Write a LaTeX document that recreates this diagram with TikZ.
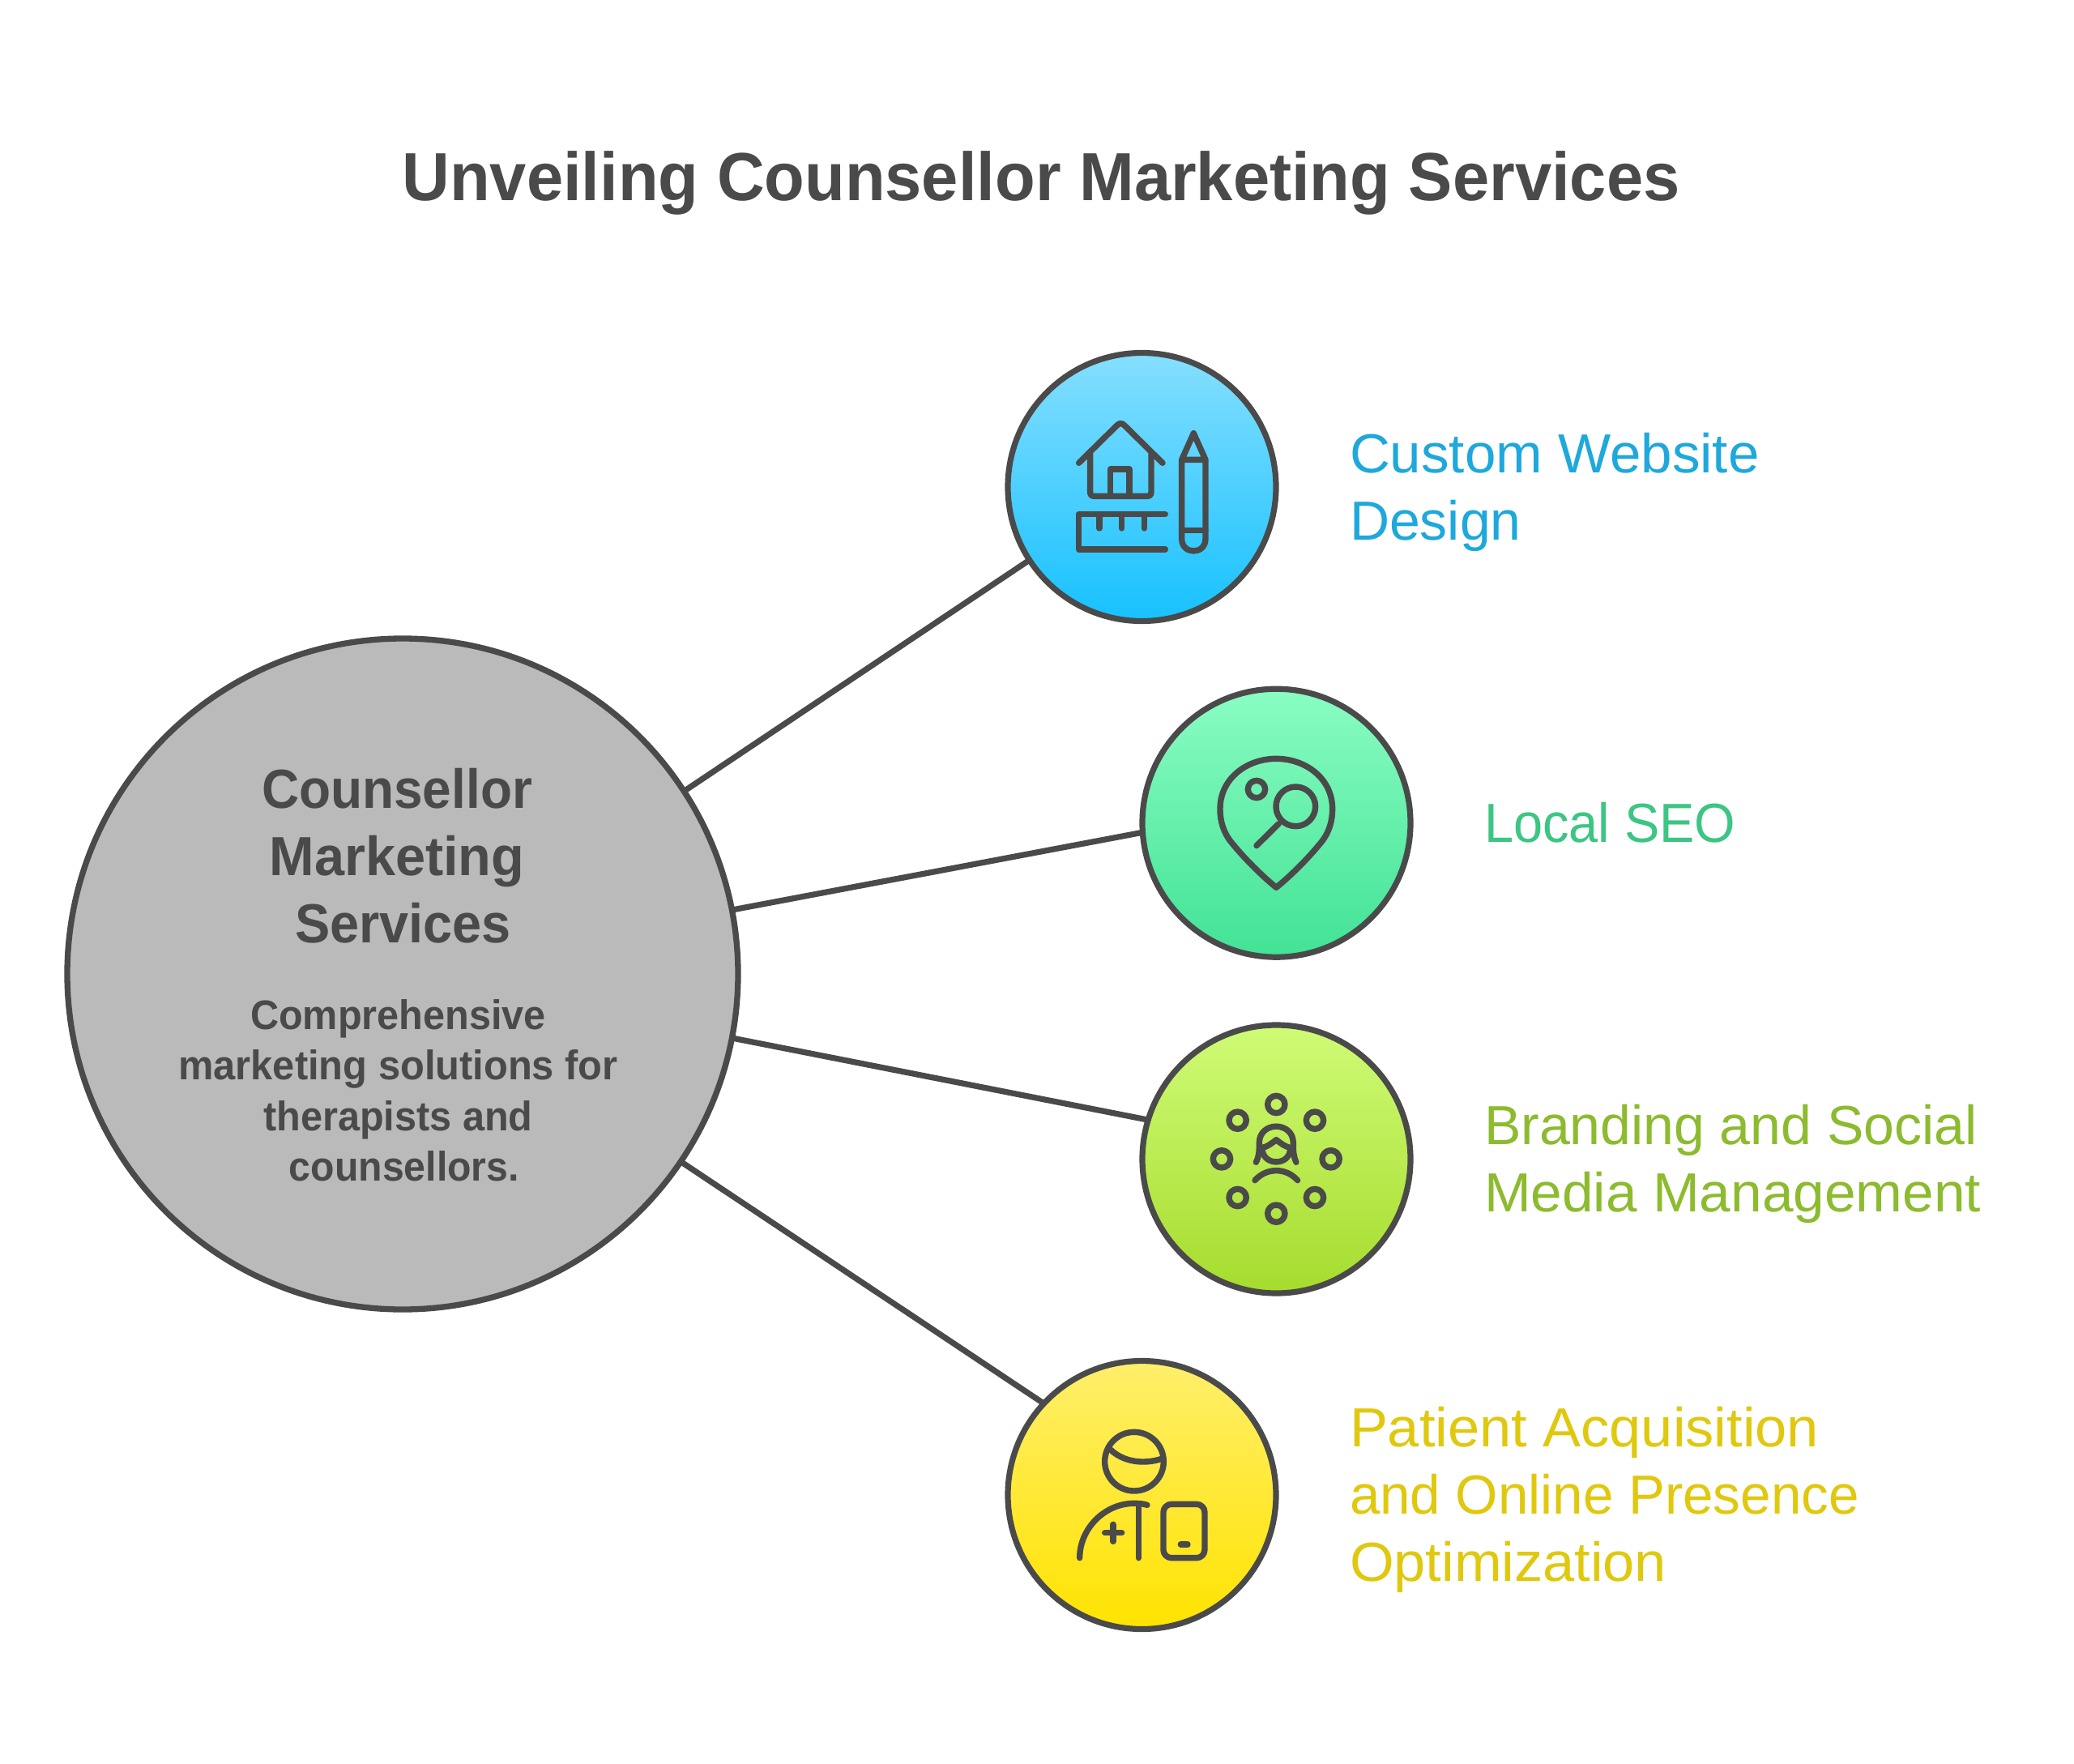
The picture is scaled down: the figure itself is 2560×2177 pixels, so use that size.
\documentclass[tikz,border=0pt]{standalone}
\usepackage{fontspec}
\usepackage{graphicx}
\setmainfont{Liberation Sans}
\definecolor{ink}{HTML}{4A4A4A}
\definecolor{hubfill}{HTML}{BABABA}
\definecolor{blueTop}{HTML}{85DFFF}\definecolor{blueBot}{HTML}{17C1FF}
\definecolor{greenTop}{HTML}{8AFDC2}\definecolor{greenBot}{HTML}{42E296}
\definecolor{limeTop}{HTML}{CFFB76}\definecolor{limeBot}{HTML}{A6DC2D}
\definecolor{yelTop}{HTML}{FFEF6B}\definecolor{yelBot}{HTML}{FFE300}
\definecolor{blueTxt}{HTML}{1EA8DC}\definecolor{greenTxt}{HTML}{3CC583}
\definecolor{limeTxt}{HTML}{8DBB2F}\definecolor{yelTxt}{HTML}{E0C80E}
\newcommand{\fs}[2]{\fontsize{#1}{#2}\selectfont}
\newcommand{\sx}[2]{\scalebox{#1}[1]{#2}}
\tikzset{
  every node/.style={inner sep=0pt,outer sep=0pt},
  disc/.style={circle,draw=ink,line width=7.2pt,minimum size=331pt},
  link/.style={draw=ink,line width=7.2pt},
  glyph/.style={draw=ink,line width=7.4pt,line cap=round,line join=round},
  label/.style={anchor=west,align=left,font=\fs{68}{83}},
}
\begin{document}
\begin{tikzpicture}[x=1pt,y=-1pt]
\useasboundingbox (0,0) rectangle (2560,2177);
\fill[white] (0,0) rectangle (2560,2177);
\node[font=\fs{84}{100}\bfseries,text=ink] (title) at (1285,226) {\sx{0.968}{Unveiling Counsellor Marketing Services}};
\node[circle,draw=ink,fill=hubfill,line width=7.3pt,minimum size=828pt] (hub) at (497,1202) {};
\node[disc,top color=blueTop,bottom color=blueBot] (c1) at (1409.5,601) {};
\node[disc,top color=greenTop,bottom color=greenBot] (c2) at (1575.5,1015.7) {};
\node[disc,top color=limeTop,bottom color=limeBot] (c3) at (1575.5,1430.5) {};
\node[disc,top color=yelTop,bottom color=yelBot] (c4) at (1409.5,1845) {};
\draw[link] (hub.33.7) -- (c1.213.6);
\draw[link] (hub.11.2) -- (c2.184.5);
\draw[link] (hub.-11.5) -- (c3.163.5);
\draw[link] (hub.-34) -- (c4.137);
\node[align=center,font=\fs{68}{83}\bfseries,text=ink] (hubT) at (490,1056) {\sx{0.94}{Counsellor}\\\sx{0.98}{Marketing}\\\hspace{14.7pt}\sx{0.953}{Services}};
\node[align=center,font=\fs{51}{62.5}\bfseries,text=ink] (hubD) at (491.5,1346) {\sx{0.953}{Comprehensive}\\\sx{0.957}{marketing solutions for}\\\sx{0.953}{therapists and}\\\hspace{14.7pt}\sx{0.945}{counsellors.}};
\node[label,text=blueTxt] (t1) at (1666,607.5) {\sx{1.016}{Custom Website}\\Design};
\node[label,text=greenTxt] (t2) at (1832,1015) {\sx{0.955}{Local SEO}};
\node[label,text=limeTxt] (t3) at (1832,1436) {Branding and Social\\\sx{1.02}{Media Management}};
\node[label,text=yelTxt] (t4) at (1666,1850.5) {\sx{1.035}{Patient Acquisition}\\\sx{0.99}{and Online Presence}\\\sx{1.035}{Optimization}};
% icon 1 (house, ruler, pencil)
\begin{scope}[shift={(1230,420)},x=0.3333pt,y=-0.3333pt]
\draw[glyph] (305,454) -- (445,316) .. controls (455,305) and (465,305) .. (475,316) -- (615,454);
\draw[glyph] (347,420) -- (347,562) .. controls (347,572) and (352,577) .. (362,577) -- (558,577) .. controls (568,577) and (573,572) .. (573,562) -- (573,420);
\draw[glyph] (422,577) -- (422,477) -- (492,477) -- (492,577);
\draw[glyph] (625,644) -- (304,644) -- (304,774) -- (625,774);
\draw[glyph] (381,644) -- (381,696) (464,644) -- (464,696) (547,644) -- (547,696);
\draw[glyph] (686,442) -- (730,344) -- (774,442) -- cycle;
\draw[glyph] (686,442) -- (686,735) .. controls (686,795) and (774,795) .. (774,735) -- (774,442);
\draw[glyph] (686,703) -- (774,703);
\end{scope}
% icon 2 (pin with magnifier)
\begin{scope}[shift={(1400,840)},x=0.3333pt,y=-0.3333pt]
\draw[glyph] (526,766) .. controls (470,720) and (410,660) .. (365,605) .. controls (330,565) and (318,520) .. (318,475) .. controls (318,360) and (420,289) .. (526,289) .. controls (632,289) and (734,360) .. (734,475) .. controls (734,520) and (722,565) .. (687,605) .. controls (642,660) and (582,720) .. (526,766) -- cycle;
\draw[glyph] (453,402) circle[radius=32];
\draw[glyph] (598,466) circle[radius=73];
\draw[glyph] (535,530) -- (453,611);
\end{scope}
% icon 3 (person in ring)
\begin{scope}[shift={(1400,1260)},x=0.3333pt,y=-0.3333pt]
\foreach \px/\py in {526/309,669/368,728/511,669/654,526/713,383/654,324/511,383/368}
  \draw[glyph] (\px,\py) circle[radius=32];
\draw[glyph] (463,452) .. controls (463,370) and (589,370) .. (589,452) .. controls (589,480) and (589,500) .. (600,523);
\draw[glyph] (463,452) .. controls (463,480) and (463,500) .. (451,523);
\draw[glyph] (473,470) .. controls (495,465) and (510,452) .. (526,440) .. controls (542,452) and (557,465) .. (579,470);
\draw[glyph] (475,482) .. controls (485,535) and (567,535) .. (577,482);
\draw[glyph] (447,590) .. controls (490,542) and (562,542) .. (605,590);
\end{scope}
% icon 4 (clinician with tablet)
\begin{scope}[shift={(1230,1670)},x=0.3333pt,y=-0.3333pt]
\draw[glyph] (510,401) circle[radius=109];
\draw[glyph] (420,355) .. controls (465,400) and (540,415) .. (615,390);
\draw[glyph] (308,758) .. controls (308,650) and (400,556) .. (510,556) .. controls (530,556) and (545,558) .. (558,562);
\draw[glyph] (526,560) -- (526,758);
\draw[glyph] (432,634) -- (432,697) (401,665) -- (464,665);
\draw[glyph,rounded corners=10pt] (618,559) rectangle (771,758);
\draw[glyph] (682,708) -- (708,708);
\end{scope}
\end{tikzpicture}
\end{document}
